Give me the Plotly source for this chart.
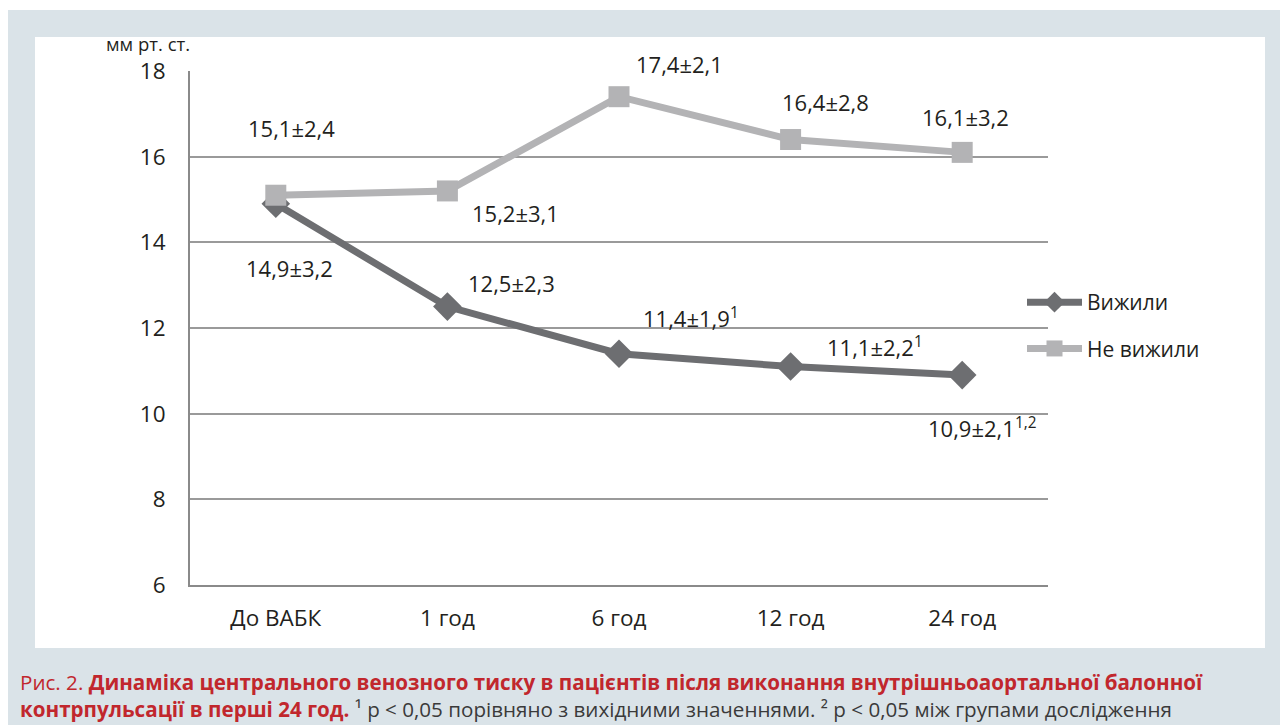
import plotly.graph_objects as go

# Data
categories = ["До ВАБК", "1 год", "6 год", "12 год", "24 год"]
survived = [14.9, 12.5, 11.4, 11.1, 10.9]
survived_sd = [3.2, 2.3, 1.9, 2.2, 2.1]
survived_marks = ["", "", "1", "1", "1,2"]
died = [15.1, 15.2, 17.4, 16.4, 16.1]
died_sd = [2.4, 3.1, 2.1, 2.8, 3.2]
died_marks = ["", "", "", "", ""]
y_ticks = [6, 8, 10, 12, 14, 16, 18]

W, H = 1280, 725
L, R, T, B = 190, 1048, 71, 585
Y0, Y1 = 6, 18

def px(x):
    return (x - L) / (R - L)

def py(y):
    return (B - y) / (B - T)

DARK = "#6d6e71"
LIGHT = "#b3b3b5"
TXT = "#231f20"
FONT = "Open Sans"

fig = go.Figure()
fig.add_trace(go.Scatter(
    x=list(range(len(categories))), y=survived, name="Вижили",
    mode="lines+markers", legendgroup="a",
    line=dict(color=DARK, width=7),
    marker=dict(symbol="diamond", size=22, color=DARK),
))
fig.add_trace(go.Scatter(
    x=list(range(len(categories))), y=died, name="Не вижили",
    mode="lines+markers", legendgroup="b",
    line=dict(color=LIGHT, width=7),
    marker=dict(symbol="square", size=21, color=LIGHT),
))

def label(v, sd, mark):
    s = f"{v:.1f}±{sd:.1f}".replace(".", ",")
    if mark:
        s += f"<sup>{mark}</sup>"
    return s

# label centre offsets from each point, screen pixels (dy > 0 is downward)
surv_off = [(14, 64), (64, -24), (72, -36), (84, -20), (20, 52)]
died_off = [(16, -67), (68, 22), (60, -33), (35, -38), (3, -35)]

def pt_px(i, v):
    x = L + (i + 0.5) * (R - L) / len(categories)
    y = B - (v - Y0) / (Y1 - Y0) * (B - T)
    return x, y

annotations = []

def add_labels(vals, sds, marks, offs):
    for i, (v, sd, mk) in enumerate(zip(vals, sds, marks)):
        x0, y0 = pt_px(i, v)
        dx, dy = offs[i]
        annotations.append(dict(x=px(x0 + dx), y=py(y0 + dy), xref="paper", yref="paper",
                                xanchor="center", yanchor="middle",
                                text=label(v, sd, mk), showarrow=False,
                                font=dict(family=FONT, size=22, color=TXT)))

add_labels(survived, survived_sd, survived_marks, surv_off)
add_labels(died, died_sd, died_marks, died_off)

annotations.append(dict(x=px(148), y=py(44), xref="paper", yref="paper",
                        xanchor="center", yanchor="middle",
                        text="мм рт. ст.", showarrow=False,
                        font=dict(family=FONT, size=18.5, color=TXT)))

RED = "#c1272d"
caption = (f"<span style='color:{RED}'>Рис. 2. <b>Динаміка центрального венозного тиску "
           f"в пацієнтів після виконання внутрішньоаортальної балонної</b></span><br>"
           f"<span style='color:{RED}'><b>контрпульсації в перші 24 год.</b></span> "
           f"¹ р &lt; 0,05 порівняно з вихідними значеннями. "
           f"² р &lt; 0,05 між групами дослідження")
annotations.append(dict(x=px(18), y=py(695), xref="paper", yref="paper",
                        xanchor="left", yanchor="middle", align="left",
                        text=caption, showarrow=False,
                        font=dict(family=FONT, size=20.6, color="#3a3a3a")))

shapes = [
    dict(type="rect", xref="paper", yref="paper", layer="below",
         x0=px(8), x1=px(1290), y0=py(735), y1=py(10),
         fillcolor="#dae3e8", line=dict(width=0)),
    dict(type="rect", xref="paper", yref="paper", layer="below",
         x0=px(35), x1=px(1265), y0=py(648), y1=py(37),
         fillcolor="white", line=dict(width=0)),
]

fig.update_layout(
    width=W, height=H,
    margin=dict(l=L, r=W - R, t=T, b=H - B),
    paper_bgcolor="white", plot_bgcolor="rgba(0,0,0,0)",
    showlegend=True,
    legend=dict(x=px(1022), y=py(282), xanchor="left", yanchor="top",
                font=dict(family=FONT, size=21, color=TXT),
                bgcolor="rgba(0,0,0,0)", itemwidth=55, tracegroupgap=16),
    annotations=annotations,
    shapes=shapes,
    xaxis=dict(range=[-0.5, len(categories) - 0.5], tickvals=list(range(len(categories))),
               ticktext=categories, showgrid=False, zeroline=False,
               showline=True, linecolor="#8a8a8a", linewidth=2, ticks="",
               ticklabelstandoff=12,
               tickfont=dict(family=FONT, size=22.5, color=TXT)),
    yaxis=dict(range=[Y0, Y1], tickvals=y_ticks, showgrid=True, gridcolor="#9a9a9a",
               gridwidth=1.5, zeroline=False, showline=True, linecolor="#8a8a8a",
               linewidth=2, ticks="", ticklen=0, ticklabelstandoff=18,
               tickfont=dict(family=FONT, size=22.5, color=TXT)),
)

fig.write_html("out.html")
